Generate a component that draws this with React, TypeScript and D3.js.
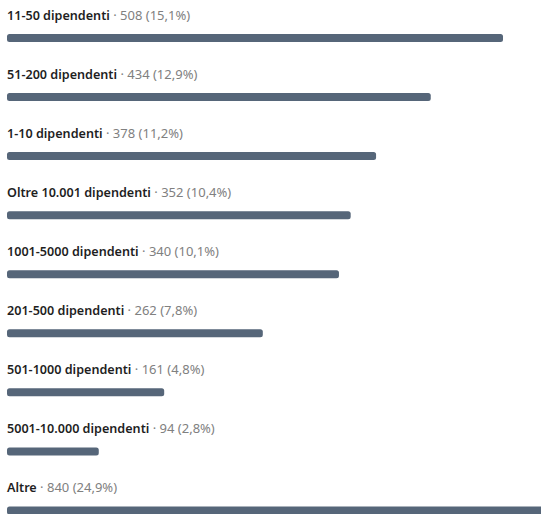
import React from "react";
import * as d3 from "d3";

const categories = [
  "11-50 dipendenti",
  "51-200 dipendenti",
  "1-10 dipendenti",
  "Oltre 10.001 dipendenti",
  "1001-5000 dipendenti",
  "201-500 dipendenti",
  "501-1000 dipendenti",
  "5001-10.000 dipendenti",
  "Altre",
];
const counts = [508, 434, 378, 352, 340, 262, 161, 94, 840];
const percents = ["15,1%", "12,9%", "11,2%", "10,4%", "10,1%", "7,8%", "4,8%", "2,8%", "24,9%"];

export default function App() {
  const W = 541;
  const H = 514;
  const left = 7;
  const x = d3.scaleLinear().domain([0, 508]).range([left, 503]);
  const y = d3.scaleBand<number>().domain(d3.range(categories.length)).range([0, 59.06 * categories.length]);
  return (
    <svg
      width={W}
      height={H}
      style={{ position: "absolute", left: 0, top: 0, display: "block" }}
      fontFamily="'Noto Sans', 'Open Sans', sans-serif"
    >
      {categories.map((c, i) => {
        const y0 = y(i)!;
        return (
          <g key={c}>
            <text x={left} y={y0 + 19.5} fontSize={12.6}>
              <tspan fontWeight={600} fill="#1f1f1f">{c}</tspan>
              <tspan fill="#808080" fontSize={13}>{` · ${counts[i]} (${percents[i]})`}</tspan>
            </text>
            <rect
              x={x(0)}
              y={y0 + 34}
              width={x(counts[i]) - x(0)}
              height={8}
              rx={2.5}
              fill="#566679"
            />
          </g>
        );
      })}
    </svg>
  );
}
